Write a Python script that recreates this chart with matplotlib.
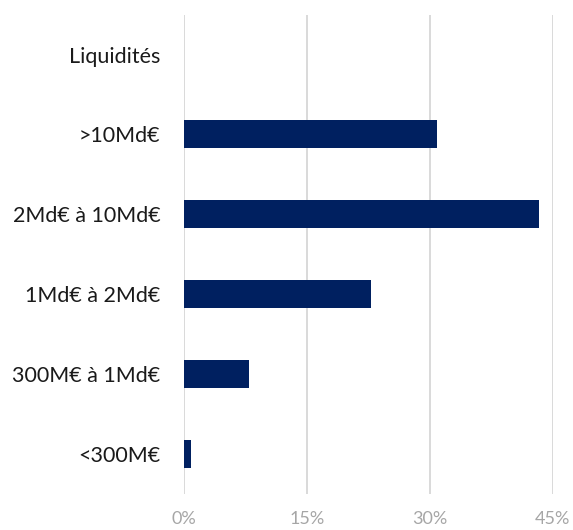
import matplotlib.pyplot as plt
from matplotlib.ticker import FuncFormatter, MultipleLocator

plt.rcParams["font.family"] = ["Lato", "DejaVu Sans"]

categories = ["Liquidités", ">10Md€", "2Md€ à 10Md€", "1Md€ à 2Md€", "300M€ à 1Md€", "<300M€"]
shares = [0.0, 30.9, 43.3, 22.8, 7.9, 0.9]

fig = plt.figure(figsize=(5.73, 5.30), dpi=100)
ax = fig.add_axes([0.321, 0.068, 0.6436, 0.9045])

pos = list(range(len(categories)))
ax.barh(pos, shares, height=0.35, color="#002060", zorder=3)

ax.set_ylim(len(categories) - 0.5, -0.5)
ax.set_yticks(pos)
ax.set_yticklabels(categories)
ax.set_xlim(0, 45)
ax.xaxis.set_major_locator(MultipleLocator(15))
ax.xaxis.set_major_formatter(FuncFormatter(lambda v, _: f"{v:.0f}%"))
ax.grid(axis="x", color="#D9D9D9", linewidth=1.4, zorder=0)
ax.set_axisbelow(True)

for s in ax.spines.values():
    s.set_visible(False)
ax.tick_params(axis="y", length=0, pad=17, labelsize=15.5, labelcolor="#1A1A1A")
ax.tick_params(axis="x", length=0, pad=12, labelsize=13, labelcolor="#A6A6A6")

fig.savefig("out.png", dpi=100)
plt.close(fig)
